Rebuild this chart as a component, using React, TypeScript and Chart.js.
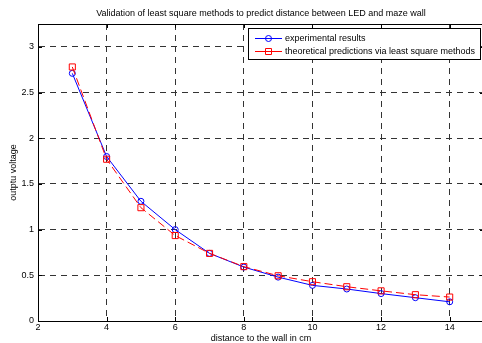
import React, { useEffect, useRef } from "react";
import { Chart, registerables } from "chart.js";

Chart.register(...registerables);

const distances = [3, 4, 5, 6, 7, 8, 9, 10, 11, 12, 13, 14];
const experimental = [2.71, 1.8, 1.31, 1.0, 0.74, 0.59, 0.48, 0.39, 0.35, 0.3, 0.255, 0.21];
const theoretical = [2.78, 1.77, 1.24, 0.935, 0.74, 0.595, 0.495, 0.43, 0.375, 0.33, 0.288, 0.262];
const titleText = "Validation of least square methods to predict distance between LED and maze wall";
const xLabel = "distance to the wall in cm";
const yLabel = "outptu voltage";
const legendLabels = ["experimental results", "theoretical predictions via least square methods"];

const FONT = "Liberation Sans, Arial, Helvetica, sans-serif";

const decorPlugin = {
  id: "decor",
  afterDraw(chart: any) {
    const { ctx, chartArea } = chart;
    const { left, right, top, bottom } = chartArea;
    ctx.save();
    // axes box
    ctx.strokeStyle = "#000";
    ctx.lineWidth = 1;
    ctx.setLineDash([]);
    ctx.beginPath();
    ctx.moveTo(left, top + 0.5);
    ctx.lineTo(right, top + 0.5);
    ctx.moveTo(right - 0.5, top);
    ctx.lineTo(right - 0.5, bottom);
    ctx.stroke();
    // inward ticks
    const xs = chart.scales.x;
    const ys = chart.scales.y;
    ctx.beginPath();
    xs.ticks.forEach((t: any) => {
      const px = Math.round(xs.getPixelForValue(t.value)) + 0.5;
      ctx.moveTo(px, bottom);
      ctx.lineTo(px, bottom - 4);
      ctx.moveTo(px, top);
      ctx.lineTo(px, top + 4);
    });
    ys.ticks.forEach((t: any) => {
      const py = Math.round(ys.getPixelForValue(t.value)) + 0.5;
      ctx.moveTo(left, py);
      ctx.lineTo(left + 4, py);
      ctx.moveTo(right, py);
      ctx.lineTo(right - 4, py);
    });
    ctx.stroke();

    // title
    ctx.fillStyle = "#000";
    ctx.font = `9px ${FONT}`;
    ctx.textAlign = "center";
    ctx.textBaseline = "middle";
    ctx.fillText(titleText, (left + right) / 2, 14);
    // x label
    ctx.fillText(xLabel, (left + right) / 2, 339);
    // y label
    ctx.save();
    ctx.translate(14, (top + bottom) / 2);
    ctx.rotate(-Math.PI / 2);
    ctx.fillText(yLabel, 0, 0);
    ctx.restore();

    // legend
    const lx = 248, ly = 28, lw = 232, lh = 31;
    ctx.fillStyle = "#fff";
    ctx.fillRect(lx, ly, lw, lh);
    ctx.strokeStyle = "#000";
    ctx.strokeRect(lx + 0.5, ly + 0.5, lw, lh);
    const rows = [38, 51];
    const colors = ["#0000ff", "#ff0000"];
    rows.forEach((ry, i) => {
      ctx.strokeStyle = colors[i];
      ctx.lineWidth = 1;
      ctx.setLineDash([]);
      ctx.beginPath();
      ctx.moveTo(255, ry + 0.5);
      ctx.lineTo(282, ry + 0.5);
      ctx.stroke();
      ctx.beginPath();
      if (i === 0) {
        ctx.arc(268.5, ry + 0.5, 3, 0, Math.PI * 2);
      } else {
        ctx.rect(265.5, ry - 2.5, 6, 6);
      }
      ctx.stroke();
      ctx.fillStyle = "#000";
      ctx.textAlign = "left";
      ctx.fillText(legendLabels[i], 285, ry + 1);
    });
    ctx.restore();
  },
};

export default function App() {
  const ref = useRef<HTMLCanvasElement>(null);
  useEffect(() => {
    if (!ref.current) return;
    const chart = new Chart(ref.current, {
      type: "line",
      data: {
        labels: distances,
        datasets: [
          {
            label: legendLabels[0],
            data: distances.map((d, i) => ({ x: d, y: experimental[i] })),
            borderColor: "#0000ff",
            borderWidth: 1,
            pointStyle: "circle",
            pointRadius: 3,
            pointBorderColor: "#0000ff",
            pointBackgroundColor: "rgba(0,0,0,0)",
            pointBorderWidth: 1,
            tension: 0,
            order: 1,
          },
          {
            label: legendLabels[1],
            data: distances.map((d, i) => ({ x: d, y: theoretical[i] })),
            borderColor: "#ff0000",
            borderWidth: 1,
            borderDash: [8, 4],
            pointStyle: "rect",
            pointRadius: 4.3,
            pointBorderColor: "#ff0000",
            pointBackgroundColor: "rgba(0,0,0,0)",
            pointBorderWidth: 1,
            tension: 0,
            order: 0,
          },
        ],
      },
      options: {
        responsive: false,
        animation: false,
        devicePixelRatio: 1,
        layout: { padding: { top: 24, right: 6, left: 0, bottom: 0 } },
        plugins: { legend: { display: false }, title: { display: false }, tooltip: { enabled: false } },
        scales: {
          x: {
            type: "linear",
            min: 2,
            max: 15,
            ticks: {
              stepSize: 2,
              includeBounds: false,
              color: "#000",
              font: { family: FONT, size: 9 },
              padding: 1,
              maxRotation: 0,
              callback: (v: any) => String(v),
            },
            grid: { color: "#333", drawTicks: false, lineWidth: 1 },
            border: { display: true, color: "#000", width: 1, dash: [6, 5] },
            afterFit: (s: any) => {
              s.height = 22;
            },
          },
          y: {
            type: "linear",
            min: 0,
            max: 3.25,
            ticks: {
              stepSize: 0.5,
              includeBounds: false,
              color: "#000",
              font: { family: FONT, size: 9 },
              padding: 4,
              callback: (v: any) => String(Math.round(Number(v) * 10) / 10),
            },
            grid: { color: "#333", drawTicks: false, lineWidth: 1 },
            border: { display: true, color: "#000", width: 1, dash: [6, 5] },
            afterFit: (s: any) => {
              s.width = 38;
            },
          },
        },
      },
      plugins: [decorPlugin],
    });
    return () => chart.destroy();
  }, []);
  return (
    <div style={{ position: "fixed", left: 0, top: 0, background: "#fff" }}>
      <canvas ref={ref} width={490} height={343} style={{ display: "block" }} />
    </div>
  );
}
